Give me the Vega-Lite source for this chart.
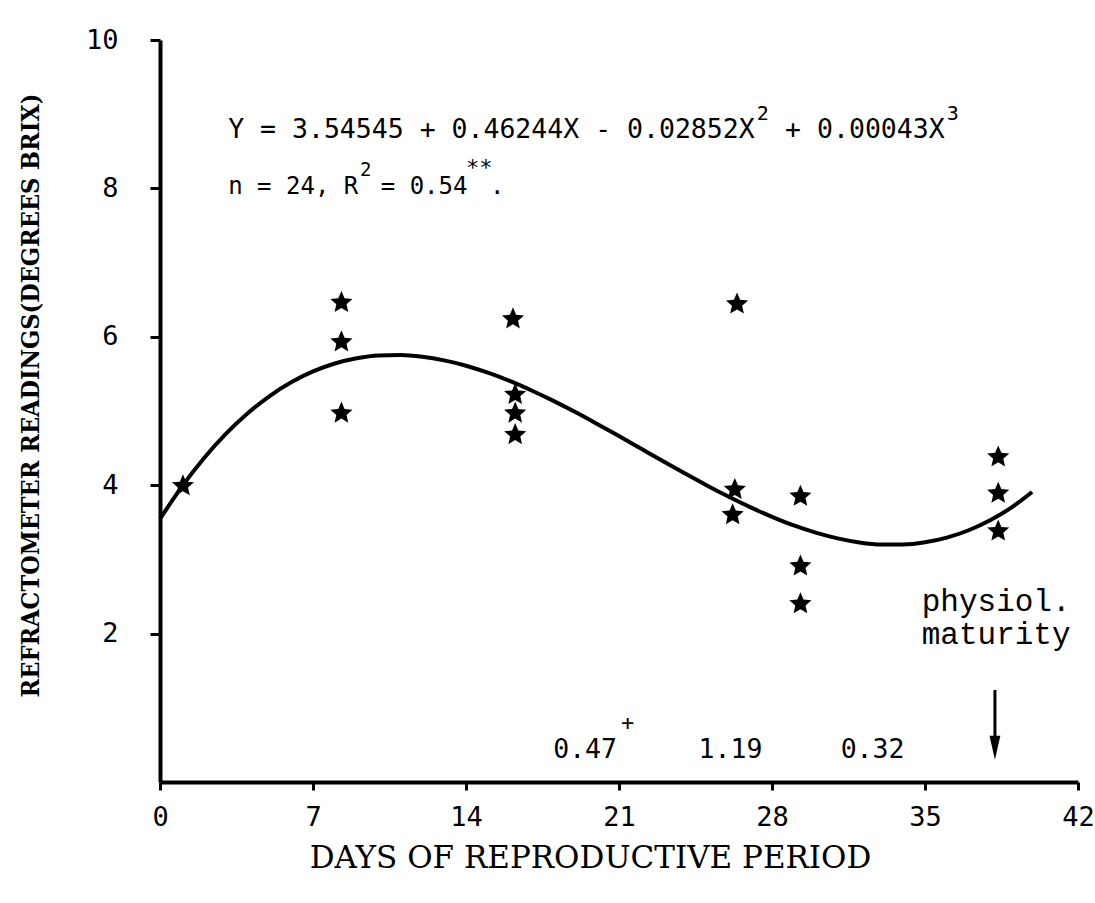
{
  "$schema": "https://vega.github.io/schema/vega-lite/v6.json",
  "width": 918,
  "height": 742,
  "autosize": {"type": "none"},
  "padding": {"left": 160, "top": 40, "right": 17, "bottom": 121},
  "background": "white",
  "config": {"view": {"stroke": null}},
  "datasets": {
    "pts": [
      {"day": 1.05, "brix": 3.99},
      {"day": 8.3, "brix": 6.46},
      {"day": 8.3, "brix": 5.93},
      {"day": 8.3, "brix": 4.97},
      {"day": 16.15, "brix": 6.24},
      {"day": 16.25, "brix": 5.22},
      {"day": 16.25, "brix": 4.97},
      {"day": 16.25, "brix": 4.68},
      {"day": 26.4, "brix": 6.44},
      {"day": 26.3, "brix": 3.94},
      {"day": 26.2, "brix": 3.6},
      {"day": 29.3, "brix": 3.85},
      {"day": 29.3, "brix": 2.91},
      {"day": 29.3, "brix": 2.4},
      {"day": 38.35, "brix": 4.38},
      {"day": 38.35, "brix": 3.89},
      {"day": 38.35, "brix": 3.38}
    ],
    "curve": [
      {"day": 0, "fit": 3.545}, {"day": 1, "fit": 3.98}, {"day": 2, "fit": 4.36},
      {"day": 3, "fit": 4.688}, {"day": 4, "fit": 4.966}, {"day": 5, "fit": 5.198},
      {"day": 6, "fit": 5.386}, {"day": 7, "fit": 5.533}, {"day": 8, "fit": 5.64},
      {"day": 9, "fit": 5.711}, {"day": 10, "fit": 5.748}, {"day": 11, "fit": 5.754},
      {"day": 12, "fit": 5.731}, {"day": 13, "fit": 5.682}, {"day": 14, "fit": 5.61},
      {"day": 15, "fit": 5.516}, {"day": 16, "fit": 5.405}, {"day": 17, "fit": 5.277},
      {"day": 18, "fit": 5.137}, {"day": 19, "fit": 4.986}, {"day": 20, "fit": 4.826},
      {"day": 21, "fit": 4.662}, {"day": 22, "fit": 4.494}, {"day": 23, "fit": 4.326},
      {"day": 24, "fit": 4.161}, {"day": 25, "fit": 4.0}, {"day": 26, "fit": 3.847},
      {"day": 27, "fit": 3.704}, {"day": 28, "fit": 3.574}, {"day": 29, "fit": 3.458},
      {"day": 30, "fit": 3.361}, {"day": 31, "fit": 3.284}, {"day": 32, "fit": 3.229},
      {"day": 33, "fit": 3.201}, {"day": 34, "fit": 3.2}, {"day": 35, "fit": 3.23},
      {"day": 36, "fit": 3.294}, {"day": 37, "fit": 3.393}, {"day": 38, "fit": 3.53},
      {"day": 39, "fit": 3.709}, {"day": 39.9, "fit": 3.909}
    ],
    "one": [{"k": 1}]
  },
  "layer": [
    {
      "data": {"name": "curve"},
      "mark": {"type": "line", "color": "black", "strokeWidth": 4, "interpolate": "monotone"},
      "encoding": {
        "x": {
          "field": "day", "type": "quantitative",
          "scale": {"domain": [0, 42], "nice": false, "zero": false},
          "axis": {
            "values": [0, 7, 14, 21, 28, 35, 42],
            "format": "d",
            "grid": false,
            "labelFlush": false,
            "domainColor": "black", "domainWidth": 4,
            "tickColor": "black", "tickWidth": 3, "tickSize": 8,
            "labelFont": "DejaVu Sans Mono", "labelFontSize": 27, "labelColor": "black",
            "labelPadding": 14,
            "title": "DAYS OF REPRODUCTIVE PERIOD",
            "titleFont": "DejaVu Serif", "titleFontSize": 31, "titleFontWeight": "normal",
            "titleColor": "black",
            "titleX": 430, "titleY": 76, "titleAlign": "center", "titleBaseline": "middle"
          }
        },
        "y": {
          "field": "fit", "type": "quantitative",
          "scale": {"domain": [0, 10], "nice": false},
          "axis": {
            "values": [2, 4, 6, 8, 10],
            "format": "d",
            "grid": false,
            "domainColor": "black", "domainWidth": 4,
            "tickColor": "black", "tickWidth": 3, "tickSize": 10,
            "labelFont": "DejaVu Sans Mono", "labelFontSize": 27, "labelColor": "black",
            "labelPadding": 32,
            "title": "REFRACTOMETER READINGS(DEGREES BRIX)",
            "titleFont": "DejaVu Serif Condensed", "titleFontSize": 25, "titleFontWeight": "bold",
            "titleColor": "black",
            "titleAngle": -90,
            "titleX": -130, "titleY": 355, "titleAlign": "center", "titleBaseline": "middle"
          }
        }
      }
    },
    {
      "data": {"name": "pts"},
      "mark": {
        "type": "point",
        "shape": "M0,-1L0.27,-0.37L0.951,-0.309L0.44,0.143L0.588,0.809L0,0.46L-0.588,0.809L-0.44,0.143L-0.951,-0.309L-0.27,-0.37Z",
        "filled": true, "color": "black", "opacity": 1, "size": 540
      },
      "encoding": {
        "x": {"field": "day", "type": "quantitative"},
        "y": {"field": "brix", "type": "quantitative"}
      }
    },
    {
      "data": {"name": "one"},
      "mark": {"type": "text", "font": "DejaVu Sans Mono", "fontSize": 26.5, "align": "left", "baseline": "middle", "color": "black"},
      "encoding": {"x": {"datum": 3.12}, "y": {"datum": 8.79}, "text": {"value": "Y = 3.54545 + 0.46244X - 0.02852X"}}
    },
    {
      "data": {"name": "one"},
      "mark": {"type": "text", "font": "DejaVu Sans Mono", "fontSize": 20, "align": "left", "baseline": "middle", "color": "black"},
      "encoding": {"x": {"datum": 27.3}, "y": {"datum": 9.0}, "text": {"value": "2"}}
    },
    {
      "data": {"name": "one"},
      "mark": {"type": "text", "font": "DejaVu Sans Mono", "fontSize": 26.5, "align": "left", "baseline": "middle", "color": "black"},
      "encoding": {"x": {"datum": 28.6}, "y": {"datum": 8.79}, "text": {"value": "+ 0.00043X"}}
    },
    {
      "data": {"name": "one"},
      "mark": {"type": "text", "font": "DejaVu Sans Mono", "fontSize": 20, "align": "left", "baseline": "middle", "color": "black"},
      "encoding": {"x": {"datum": 36.0}, "y": {"datum": 9.0}, "text": {"value": "3"}}
    },
    {
      "data": {"name": "one"},
      "mark": {"type": "text", "font": "DejaVu Sans Mono", "fontSize": 24, "align": "left", "baseline": "middle", "color": "black"},
      "encoding": {"x": {"datum": 3.12}, "y": {"datum": 8.02}, "text": {"value": "n = 24, R"}}
    },
    {
      "data": {"name": "one"},
      "mark": {"type": "text", "font": "DejaVu Sans Mono", "fontSize": 19, "align": "left", "baseline": "middle", "color": "black"},
      "encoding": {"x": {"datum": 9.15}, "y": {"datum": 8.25}, "text": {"value": "2"}}
    },
    {
      "data": {"name": "one"},
      "mark": {"type": "text", "font": "DejaVu Sans Mono", "fontSize": 24, "align": "left", "baseline": "middle", "color": "black"},
      "encoding": {"x": {"datum": 10.1}, "y": {"datum": 8.02}, "text": {"value": "= 0.54"}}
    },
    {
      "data": {"name": "one"},
      "mark": {"type": "text", "font": "DejaVu Sans Mono", "fontSize": 22, "align": "left", "baseline": "middle", "color": "black"},
      "encoding": {"x": {"datum": 14.0}, "y": {"datum": 8.27}, "text": {"value": "**"}}
    },
    {
      "data": {"name": "one"},
      "mark": {"type": "text", "font": "DejaVu Sans Mono", "fontSize": 24, "align": "left", "baseline": "middle", "color": "black"},
      "encoding": {"x": {"datum": 15.1}, "y": {"datum": 8.02}, "text": {"value": "."}}
    },
    {
      "data": {"name": "one"},
      "mark": {"type": "text", "font": "DejaVu Sans Mono", "fontSize": 26.5, "align": "center", "baseline": "middle", "color": "black"},
      "encoding": {"x": {"datum": 19.45}, "y": {"datum": 0.43}, "text": {"value": "0.47"}}
    },
    {
      "data": {"name": "one"},
      "mark": {"type": "text", "font": "DejaVu Sans Mono", "fontSize": 22, "align": "center", "baseline": "middle", "color": "black"},
      "encoding": {"x": {"datum": 21.4}, "y": {"datum": 0.8}, "text": {"value": "+"}}
    },
    {
      "data": {"name": "one"},
      "mark": {"type": "text", "font": "DejaVu Sans Mono", "fontSize": 26.5, "align": "center", "baseline": "middle", "color": "black"},
      "encoding": {"x": {"datum": 26.1}, "y": {"datum": 0.43}, "text": {"value": "1.19"}}
    },
    {
      "data": {"name": "one"},
      "mark": {"type": "text", "font": "DejaVu Sans Mono", "fontSize": 26.5, "align": "center", "baseline": "middle", "color": "black"},
      "encoding": {"x": {"datum": 32.6}, "y": {"datum": 0.43}, "text": {"value": "0.32"}}
    },
    {
      "data": {"name": "one"},
      "mark": {"type": "text", "font": "Liberation Mono", "fontSize": 31, "align": "left", "baseline": "middle", "color": "black"},
      "encoding": {"x": {"datum": 34.85}, "y": {"datum": 2.43}, "text": {"value": "physiol."}}
    },
    {
      "data": {"name": "one"},
      "mark": {"type": "text", "font": "Liberation Mono", "fontSize": 31, "align": "left", "baseline": "middle", "color": "black"},
      "encoding": {"x": {"datum": 34.85}, "y": {"datum": 1.98}, "text": {"value": "maturity"}}
    },
    {
      "data": {"name": "one"},
      "mark": {"type": "rule", "color": "black", "strokeWidth": 3},
      "encoding": {"x": {"datum": 38.2}, "y": {"datum": 1.24}, "y2": {"datum": 0.5}}
    },
    {
      "data": {"name": "one"},
      "mark": {"type": "point", "shape": "M-0.45,-1L0.45,-1L0,1Z", "filled": true, "color": "black", "opacity": 1, "size": 576},
      "encoding": {"x": {"datum": 38.2}, "y": {"datum": 0.46}}
    }
  ]
}
